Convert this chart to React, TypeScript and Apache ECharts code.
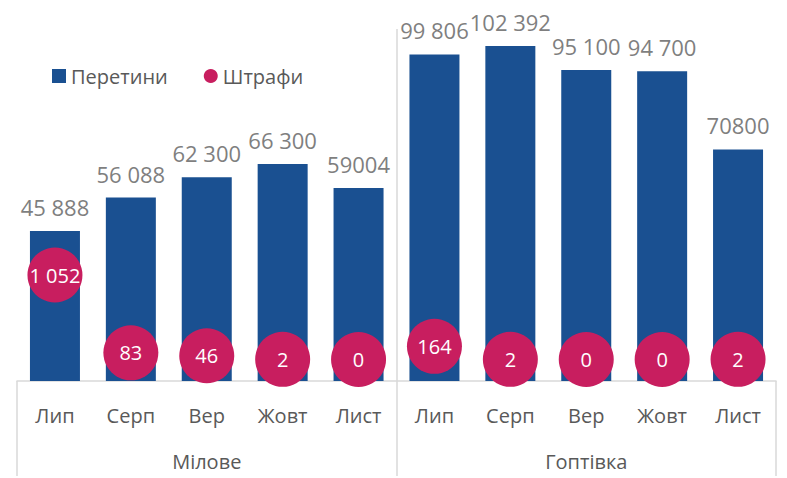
import React, { useEffect, useRef } from "react";
import * as echarts from "echarts";

const categories = ["Лип", "Серп", "Вер", "Жовт", "Лист", "Лип", "Серп", "Вер", "Жовт", "Лист"];
const groups = ["Мілове", "Гоптівка"];
const crossings = [45888, 56088, 62300, 66300, 59004, 99806, 102392, 95100, 94700, 70800];
const crossingLabels = ["45 888", "56 088", "62 300", "66 300", "59004", "99 806", "102 392", "95 100", "94 700", "70800"];
const fines = [1052, 83, 46, 2, 0, 164, 2, 0, 0, 2];
const fineLabels = ["1 052", "83", "46", "2", "0", "164", "2", "0", "0", "2"];

const FONT = "'Open Sans', 'Noto Sans', sans-serif";

export default function App() {
  const ref = useRef<HTMLDivElement>(null);
  useEffect(() => {
    document.body.style.margin = "0";
    const chart = echarts.init(ref.current!, null, { renderer: "svg" });
    chart.setOption({
      animation: false,
      backgroundColor: "#ffffff",
      textStyle: { fontFamily: FONT },
      legend: {
        left: 47,
        top: 61,
        itemWidth: 14,
        itemHeight: 14,
        itemGap: 36,
        textStyle: { fontSize: 20, color: "#595959", fontFamily: FONT },
        data: [
          { name: "Перетини", icon: "rect" },
          { name: "Штрафи", icon: "circle" },
        ],
      },
      grid: { left: 17, right: 11, top: 29, bottom: 97 },
      xAxis: [
        {
          type: "category",
          data: categories,
          position: "bottom",
          axisLine: { show: true, onZero: false, lineStyle: { color: "#d9d9d9", width: 1.5 } },
          axisTick: { show: false },
          axisLabel: { interval: 0, margin: 24, fontSize: 20, color: "#595959", fontFamily: FONT },
        },
        {
          type: "category",
          data: groups,
          position: "bottom",
          axisLine: { show: false, onZero: false },
          axisTick: { show: true, length: 95, lineStyle: { color: "#d9d9d9", width: 1.5 } },
          axisLabel: { interval: 0, margin: 70, fontSize: 20, color: "#595959", fontFamily: FONT },
          splitLine: {
            show: true,
            showMinLine: false,
            showMaxLine: false,
            lineStyle: { color: "#d9d9d9", width: 1.5 },
          },
        },
      ],
      yAxis: [
        { type: "value", min: 0, max: 107600, show: false, splitLine: { show: false } },
        { type: "value", min: -268, max: 4116, show: false, splitLine: { show: false } },
      ],
      series: [
        {
          name: "Перетини",
          type: "bar",
          xAxisIndex: 0,
          yAxisIndex: 0,
          barWidth: 50,
          data: crossings,
          itemStyle: { color: "#1A5091" },
          label: {
            show: true,
            position: "top",
            distance: 13,
            fontSize: 22,
            color: "#7f7f7f",
            fontFamily: FONT,
            formatter: (p: any) => crossingLabels[p.dataIndex],
          },
        },
        {
          name: "Штрафи",
          type: "scatter",
          xAxisIndex: 0,
          yAxisIndex: 1,
          symbol: "circle",
          symbolSize: 55,
          data: fines,
          itemStyle: { color: "#C81E5F", opacity: 1 },
          label: {
            show: true,
            position: "inside",
            fontSize: 20,
            color: "#ffffff",
            fontFamily: FONT,
            formatter: (p: any) => fineLabels[p.dataIndex],
          },
          z: 5,
        },
      ],
    });
    return () => chart.dispose();
  }, []);
  return <div ref={ref} style={{ width: 787, height: 478 }} />;
}
